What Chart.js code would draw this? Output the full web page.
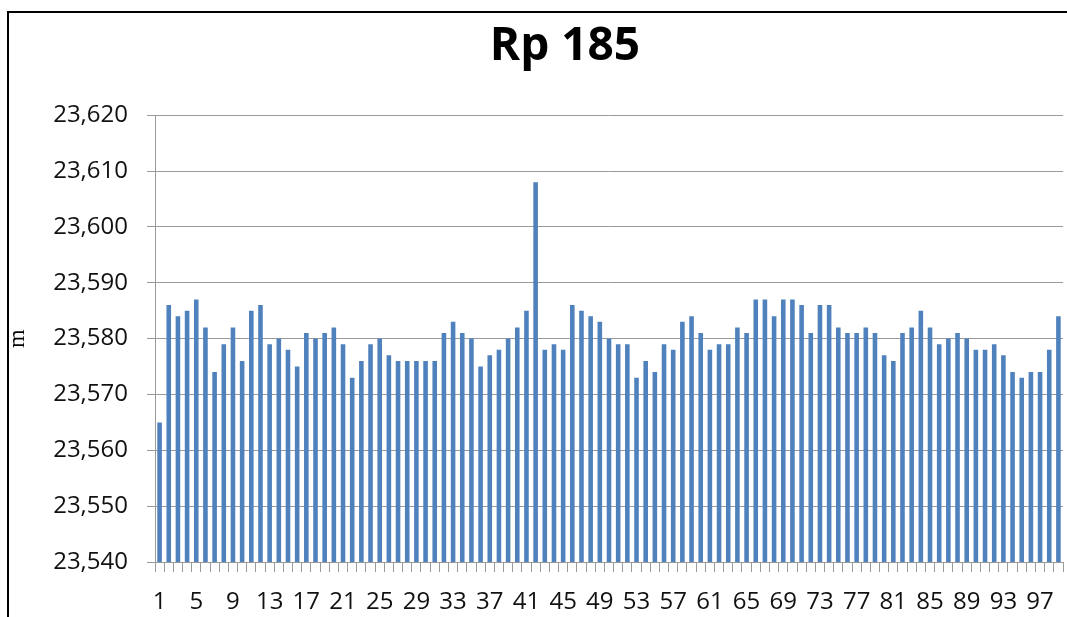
<!DOCTYPE html>
<html>
<head>
<meta charset="utf-8">
<script src="https://cdn.jsdelivr.net/npm/chart.js@4"></script>
<style>
  html, body { margin: 0; padding: 0; background: #fff; overflow: hidden; }
  #frame { position: absolute; left: 7px; top: 11px; width: 1120px; height: 660px; border: 2px solid #000; }
  #wrap { position: absolute; left: 0; top: 0; width: 1130px; height: 617px; }
</style>
</head>
<body>
<div id="frame"></div>
<div id="wrap"><canvas id="chart" width="1130" height="617"></canvas></div>
<script>
// point numbers 1..99
const labels = [
  1, 2, 3, 4, 5, 6, 7, 8, 9, 10, 11, 12, 13, 14, 15, 16, 17, 18, 19, 20,
  21, 22, 23, 24, 25, 26, 27, 28, 29, 30, 31, 32, 33, 34, 35, 36, 37, 38, 39, 40,
  41, 42, 43, 44, 45, 46, 47, 48, 49, 50, 51, 52, 53, 54, 55, 56, 57, 58, 59, 60,
  61, 62, 63, 64, 65, 66, 67, 68, 69, 70, 71, 72, 73, 74, 75, 76, 77, 78, 79, 80,
  81, 82, 83, 84, 85, 86, 87, 88, 89, 90, 91, 92, 93, 94, 95, 96, 97, 98, 99
];

// heights (m)
const heights = [
  23.565, 23.586, 23.584, 23.585, 23.587, 23.582, 23.574, 23.579, 23.582, 23.576,
  23.585, 23.586, 23.579, 23.580, 23.578, 23.575, 23.581, 23.580, 23.581, 23.582,
  23.579, 23.573, 23.576, 23.579, 23.580, 23.577, 23.576, 23.576, 23.576, 23.576,
  23.576, 23.581, 23.583, 23.581, 23.580, 23.575, 23.577, 23.578, 23.580, 23.582,
  23.585, 23.608, 23.578, 23.579, 23.578, 23.586, 23.585, 23.584, 23.583, 23.580,
  23.579, 23.579, 23.573, 23.576, 23.574, 23.579, 23.578, 23.583, 23.584, 23.581,
  23.578, 23.579, 23.579, 23.582, 23.581, 23.587, 23.587, 23.584, 23.587, 23.587,
  23.586, 23.581, 23.586, 23.586, 23.582, 23.581, 23.581, 23.582, 23.581, 23.577,
  23.576, 23.581, 23.582, 23.585, 23.582, 23.579, 23.580, 23.581, 23.580, 23.578,
  23.578, 23.579, 23.577, 23.574, 23.573, 23.574, 23.574, 23.578, 23.584
];

const yMin = 23.54;
const yMax = 23.62;
const yStep = 0.01;

const gridGrey = "#9a9a9a";

new Chart(document.getElementById("chart"), {
  type: "bar",
  data: {
    labels: labels,
    datasets: [
      {
        label: "Rp 185",
        data: heights,
        backgroundColor: "#4F81BD",
        borderWidth: 0,
        barPercentage: 0.5,
        categoryPercentage: 1,
      },
    ],
  },
  options: {
    responsive: false,
    animation: false,
    layout: { padding: 0 },
    plugins: {
      legend: { display: false },
      tooltip: { enabled: false },
      title: {
        display: true,
        text: "Rp 185",
        color: "#000",
        font: { family: "Open Sans", size: 46, weight: "bold" },
        padding: { top: 19, bottom: 41 },
      },
    },
    scales: {
      x: {
        offset: true,
        grid: { display: true, drawOnChartArea: false, drawTicks: true, tickLength: 10, color: gridGrey, offset: true },
        border: { color: gridGrey },
        ticks: {
          autoSkip: false,
          maxRotation: 0,
          padding: 16,
          color: "#111",
          font: { family: "Open Sans", size: 24 },
          callback: function (val, idx) {
            return idx % 4 === 0 ? String(labels[idx]) : "";
          },
        },
        afterFit: function (scale) { scale.height = 55; },
      },
      y: {
        min: yMin,
        max: yMax,
        grid: { color: gridGrey, tickLength: 8 },
        border: { color: gridGrey },
        ticks: {
          stepSize: yStep,
          padding: 19,
          color: "#111",
          font: { family: "Open Sans", size: 24 },
          callback: function (v) { return v.toFixed(3).replace(".", ","); },
        },
        title: {
          display: true,
          text: "m",
          color: "#000",
          font: { family: "Liberation Serif", size: 24 },
          padding: { top: 3, bottom: 0 },
        },
        afterFit: function (scale) { scale.width = 155; },
      },
      // empty spacer on the right: the chart runs past the window edge
      yRight: {
        position: "right",
        grid: { display: false },
        border: { display: false },
        ticks: { display: false },
        afterFit: function (scale) { scale.width = 67; },
      },
    },
  },
});
</script>
</body>
</html>
